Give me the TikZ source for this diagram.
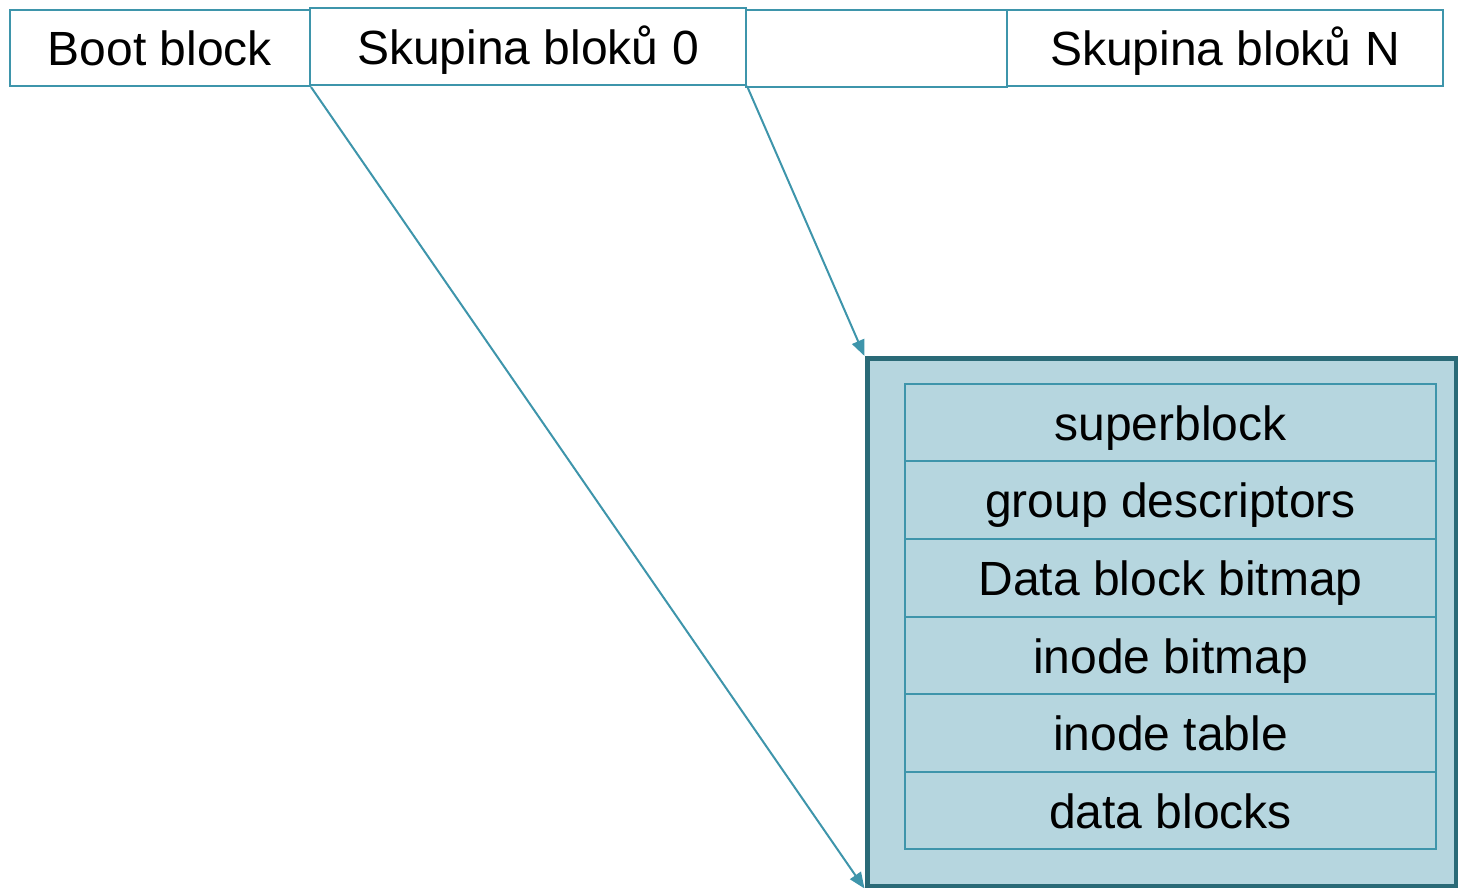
\documentclass[tikz,border=0pt]{standalone}
\usepackage{fontspec}
\setmainfont{Liberation Sans}
\usetikzlibrary{arrows.meta}
\definecolor{lineC}{RGB}{62,149,171}
\definecolor{darkC}{RGB}{42,106,119}
\definecolor{fillC}{RGB}{182,214,223}
\begin{document}
\begin{tikzpicture}[x=1pt,y=-1pt,
  topbox/.style={draw=lineC, line width=2pt, fill=white, inner sep=0pt, text height=35pt, text depth=0pt, minimum height=76pt, font=\fontsize{48}{57}\selectfont},
  rowbox/.style={draw=lineC, line width=2pt, inner sep=0pt, text height=35.4pt, text depth=0pt, minimum width=531pt, minimum height=77.6pt, font=\fontsize{48}{57}\selectfont},
  arr/.style={draw=lineC, line width=2pt, -{Triangle[length=16pt,width=13pt]}}]
\useasboundingbox (0,0) rectangle (1458,887);
% top row
\node[topbox, minimum width=261pt, minimum height=77pt] (empty) at (876.5,48.5) {};
\node[topbox, minimum width=300pt] (boot) at (160,48) {Boot block};
\node[topbox, minimum width=436pt, minimum height=77pt] (sk0) at (528,46.5) {Skupina bloků 0};
\node[topbox, minimum width=436pt] (skN) at (1225,48) {Skupina bloků N};
% big box
\node[draw=darkC, fill=fillC, line width=5pt, inner sep=0pt, minimum width=589pt, minimum height=527.5pt] (bigbox) at (1161.5,622.25) {};
% rows
\node[rowbox] (r1) at (1170.5,422.5) {superblock};
\node[rowbox] (r2) at (1170.5,500.1) {group descriptors};
\node[rowbox] (r3) at (1170.5,577.7) {Data block bitmap};
\node[rowbox] (r4) at (1170.5,655.3) {inode bitmap};
\node[rowbox] (r5) at (1170.5,732.9) {inode table};
\node[rowbox] (r6) at (1170.5,810.5) {data blocks};
% arrows
\draw[arr] (boot.south east) -- (bigbox.south west);
\draw[arr] (sk0.south east) -- (bigbox.north west);
\end{tikzpicture}
\end{document}
